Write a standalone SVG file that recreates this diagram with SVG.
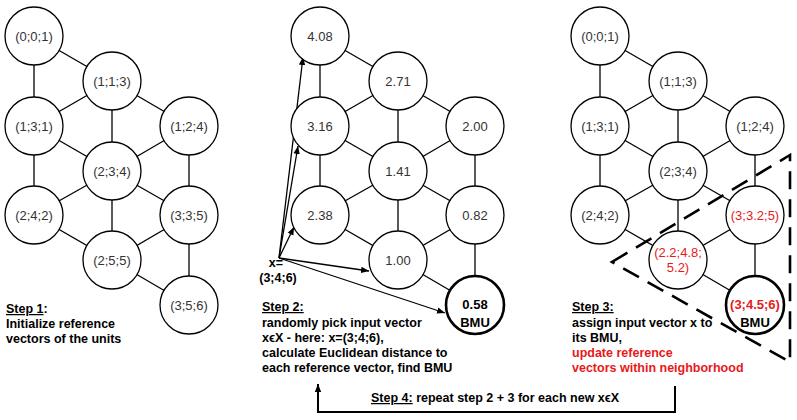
<svg xmlns="http://www.w3.org/2000/svg" width="797" height="420" viewBox="0 0 797 420">
<style>
.n circle{fill:#fff;stroke:#000;stroke-width:1.3}
.n text{font-family:"Liberation Sans",Arial,sans-serif;font-size:13px;fill:#333;text-anchor:middle}
.b circle{stroke-width:2.6}
.e line{stroke:#000;stroke-width:1.3}
.t{font-family:"Liberation Sans",Arial,sans-serif;font-size:12.5px;font-weight:bold;fill:#000}
.r,.n text.r{fill:#e8191b}
.n text.k{fill:#000;font-weight:bold}
</style>
<defs>
<marker id="a" viewBox="0 0 10 10" refX="10" refY="5" markerWidth="8" markerHeight="8" orient="auto" markerUnits="userSpaceOnUse"><path d="M0,1 L10,5 L0,9 Z" fill="#000"/></marker>
<g id="edges" class="e">
<line x1="34" y1="36" x2="34" y2="126"/><line x1="34" y1="36" x2="112" y2="81"/>
<line x1="112" y1="81" x2="34" y2="126"/><line x1="112" y1="81" x2="112" y2="171"/>
<line x1="112" y1="81" x2="189" y2="126"/><line x1="34" y1="126" x2="112" y2="171"/>
<line x1="189" y1="126" x2="112" y2="171"/><line x1="34" y1="126" x2="34" y2="215"/>
<line x1="189" y1="126" x2="189" y2="215"/><line x1="112" y1="171" x2="34" y2="215"/>
<line x1="112" y1="171" x2="189" y2="215"/><line x1="112" y1="171" x2="112" y2="260"/>
<line x1="34" y1="215" x2="112" y2="260"/><line x1="189" y1="215" x2="112" y2="260"/>
<line x1="189" y1="215" x2="189" y2="305"/><line x1="112" y1="260" x2="189" y2="305"/>
</g>
</defs>
<g id="connectors">
<use href="#edges"/>
<use href="#edges" x="286"/>
<use href="#edges" x="566"/>
<g stroke="#000" stroke-width="1.3" fill="none">
<line x1="279" y1="258" x2="303" y2="57" marker-end="url(#a)"/>
<line x1="279" y1="258" x2="298" y2="146" marker-end="url(#a)"/>
<line x1="279" y1="258" x2="294" y2="227" marker-end="url(#a)"/>
<line x1="279" y1="258" x2="369" y2="271" marker-end="url(#a)"/>
<line x1="279" y1="258" x2="445" y2="313" marker-end="url(#a)"/>
<path d="M675,386 V412 H318 V392" stroke-width="2"/>
<line x1="318" y1="394" x2="318" y2="384" stroke-width="2" marker-end="url(#a)"/>
<path d="M612,262 L790,155 V362 Z" stroke-width="2.6" stroke-dasharray="18,10"/>
</g>
</g>
<g id="p1">
<g id="n1a" class="n"><circle cx="34" cy="36" r="29"/><text x="34" y="41">(0;0;1)</text></g>
<g id="n1b" class="n"><circle cx="112" cy="81" r="29"/><text x="112" y="86">(1;1;3)</text></g>
<g id="n1c" class="n"><circle cx="34" cy="126" r="29"/><text x="34" y="131">(1;3;1)</text></g>
<g id="n1d" class="n"><circle cx="189" cy="126" r="29"/><text x="189" y="131">(1;2;4)</text></g>
<g id="n1e" class="n"><circle cx="112" cy="171" r="29"/><text x="112" y="176">(2;3;4)</text></g>
<g id="n1f" class="n"><circle cx="34" cy="215" r="29"/><text x="34" y="220">(2;4;2)</text></g>
<g id="n1g" class="n"><circle cx="189" cy="215" r="29"/><text x="189" y="220">(3;3;5)</text></g>
<g id="n1h" class="n"><circle cx="112" cy="260" r="29"/><text x="112" y="265">(2;5;5)</text></g>
<g id="n1i" class="n"><circle cx="189" cy="305" r="29"/><text x="189" y="310">(3;5;6)</text></g>
</g>
<g id="p2">
<g id="n2a" class="n"><circle cx="320" cy="36" r="29"/><text x="320" y="41">4.08</text></g>
<g id="n2b" class="n"><circle cx="398" cy="81" r="29"/><text x="398" y="86">2.71</text></g>
<g id="n2c" class="n"><circle cx="320" cy="126" r="29"/><text x="320" y="131">3.16</text></g>
<g id="n2d" class="n"><circle cx="475" cy="126" r="29"/><text x="475" y="131">2.00</text></g>
<g id="n2e" class="n"><circle cx="398" cy="171" r="29"/><text x="398" y="176">1.41</text></g>
<g id="n2f" class="n"><circle cx="320" cy="215" r="29"/><text x="320" y="220">2.38</text></g>
<g id="n2g" class="n"><circle cx="475" cy="215" r="29"/><text x="475" y="220">0.82</text></g>
<g id="n2h" class="n"><circle cx="398" cy="260" r="29"/><text x="398" y="265">1.00</text></g>
<g id="n2i" class="n b"><circle cx="475" cy="305" r="29"/><text x="475" y="309" class="k">0.58</text><text x="475" y="327" class="k">BMU</text></g>
</g>
<g id="p3">
<g id="n3a" class="n"><circle cx="600" cy="36" r="29"/><text x="600" y="41">(0;0;1)</text></g>
<g id="n3b" class="n"><circle cx="678" cy="81" r="29"/><text x="678" y="86">(1;1;3)</text></g>
<g id="n3c" class="n"><circle cx="600" cy="126" r="29"/><text x="600" y="131">(1;3;1)</text></g>
<g id="n3d" class="n"><circle cx="755" cy="126" r="29"/><text x="755" y="131">(1;2;4)</text></g>
<g id="n3e" class="n"><circle cx="678" cy="171" r="29"/><text x="678" y="176">(2;3;4)</text></g>
<g id="n3f" class="n"><circle cx="600" cy="215" r="29"/><text x="600" y="220">(2;4;2)</text></g>
<g id="n3g" class="n"><circle cx="755" cy="215" r="29"/><text x="755" y="220" class="r">(3;3.2;5)</text></g>
<g id="n3h" class="n"><circle cx="678" cy="260" r="29"/><text x="678" y="257" class="r">(2.2;4.8;</text><text x="678" y="272" class="r">5.2)</text></g>
<g id="n3i" class="n b"><circle cx="755" cy="305" r="29"/><text x="755" y="309" font-weight="bold" class="r">(3;4.5;6)</text><text x="755" y="327" class="k">BMU</text></g>
</g>
<g id="labels" class="t">
<text x="276" y="267" text-anchor="middle">x=</text>
<text x="278" y="282" text-anchor="middle">(3;4;6)</text>
<text x="6" y="313"><tspan text-decoration="underline">Step 1</tspan>:</text>
<text x="6" y="328">Initialize reference</text>
<text x="6" y="343">vectors of the units</text>
<text x="262" y="311" text-decoration="underline">Step 2:</text>
<text x="262" y="327">randomly pick input vector</text>
<text x="262" y="342">xϵX - here: x=(3;4;6),</text>
<text x="262" y="357">calculate Euclidean distance to</text>
<text x="262" y="372">each reference vector, find BMU</text>
<text x="572" y="311" text-decoration="underline">Step 3:</text>
<text x="572" y="327">assign input vector x to</text>
<text x="572" y="342">its BMU,</text>
<text x="572" y="357" class="r">update reference</text>
<text x="572" y="372" class="r">vectors within neighborhood</text>
<text x="371" y="402"><tspan text-decoration="underline">Step 4:</tspan> repeat step 2 + 3 for each new xϵX</text>
</g>
</svg>
